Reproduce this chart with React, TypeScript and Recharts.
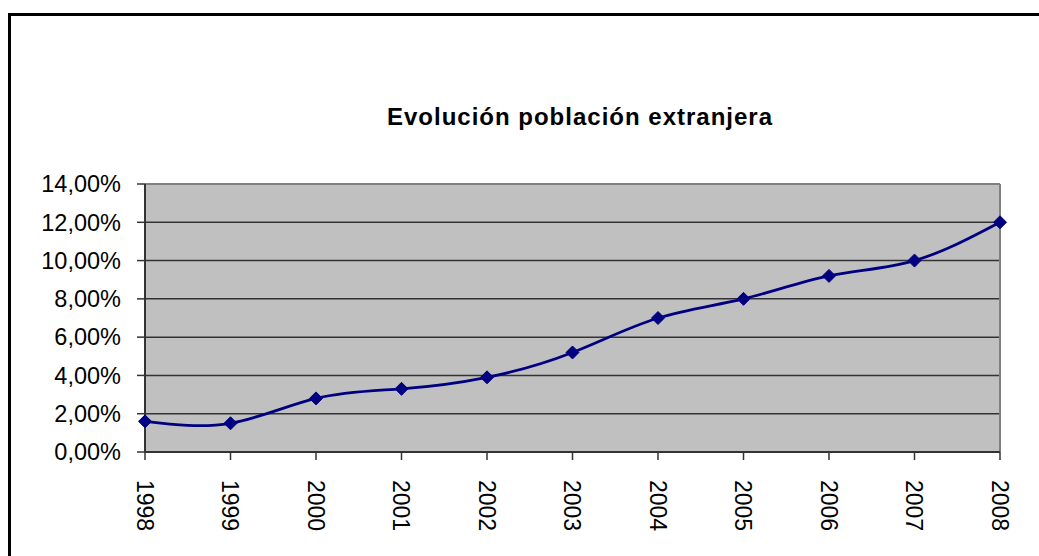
import React from "react";
import { LineChart, Line, XAxis, YAxis, CartesianGrid, ReferenceLine } from "recharts";

const years = ["1998", "1999", "2000", "2001", "2002", "2003", "2004", "2005", "2006", "2007", "2008"];
const values = [1.6, 1.5, 2.8, 3.3, 3.9, 5.2, 7.0, 8.0, 9.2, 10.0, 12.0];
const yTicks = [0, 2, 4, 6, 8, 10, 12, 14];
const title = "Evolución población extranjera";

const data = years.map((y, i) => ({ year: y, value: values[i] }));

const FONT = "'Liberation Sans', Arial, sans-serif";

const fmt = (v: number) => v.toFixed(2).replace(".", ",") + "%";

const Diamond = (props: any) => {
  const { cx, cy } = props;
  if (cx == null || cy == null) return null;
  const r = 6.5;
  return (
    <polygon
      points={`${cx},${cy - r} ${cx + r},${cy} ${cx},${cy + r} ${cx - r},${cy}`}
      fill="#000080"
      stroke="#000080"
      strokeWidth={1}
    />
  );
};

const YearTick = (props: any) => {
  const { x, y, payload } = props;
  return (
    <text
      transform={`translate(${x},${y + 18}) rotate(90)`}
      dy="0.36em"
      textAnchor="start"
      fontSize={23}
      fontFamily={FONT}
      fill="#000"
    >
      {payload.value}
    </text>
  );
};

export default function App() {
  return (
    <div style={{ position: "absolute", left: 0, top: 0, width: 1039, height: 556, overflow: "hidden", background: "#fff" }}>
      <div
        style={{
          position: "absolute",
          left: 8,
          top: 13,
          width: 1031,
          height: 543,
          borderLeft: "3px solid #000",
          borderTop: "3px solid #000",
          boxSizing: "border-box",
        }}
      />
      <div
        style={{
          position: "absolute",
          left: 0,
          width: 1160,
          top: 104,
          textAlign: "center",
          fontFamily: FONT,
          fontWeight: "bold",
          fontSize: 24,
          letterSpacing: 1,
          color: "#000",
          lineHeight: "26px",
        }}
      >
        {title}
      </div>
      <div style={{ position: "absolute", left: 0, top: 0 }}>
        <LineChart width={1039} height={556} data={data} margin={{ top: 184, right: 39, bottom: 0, left: 0 }}>
          <CartesianGrid vertical={false} fill="#C0C0C0" stroke="#333" strokeWidth={1.5} fillOpacity={1} />
          <ReferenceLine y={14} stroke="#808080" strokeWidth={2} />
          <ReferenceLine x="2008" stroke="#808080" strokeWidth={2} />
          <XAxis
            dataKey="year"
            height={104}
            tickSize={8}
            tick={<YearTick />}
            axisLine={{ stroke: "#333", strokeWidth: 2 }}
            tickLine={{ stroke: "#333", strokeWidth: 1.5 }}
            interval={0}
          />
          <YAxis
            width={145}
            domain={[0, 14]}
            ticks={yTicks}
            tickFormatter={fmt}
            tickSize={8}
            tickMargin={16}
            interval={0}
            tick={{ fontSize: 23.5, fontFamily: FONT, fill: "#000" }}
            axisLine={{ stroke: "#333", strokeWidth: 2 }}
            tickLine={{ stroke: "#333", strokeWidth: 1.5 }}
          />
          <Line
            type="natural"
            dataKey="value"
            stroke="#000080"
            strokeWidth={2.8}
            dot={<Diamond />}
            activeDot={false}
            isAnimationActive={false}
          />
        </LineChart>
      </div>
    </div>
  );
}
